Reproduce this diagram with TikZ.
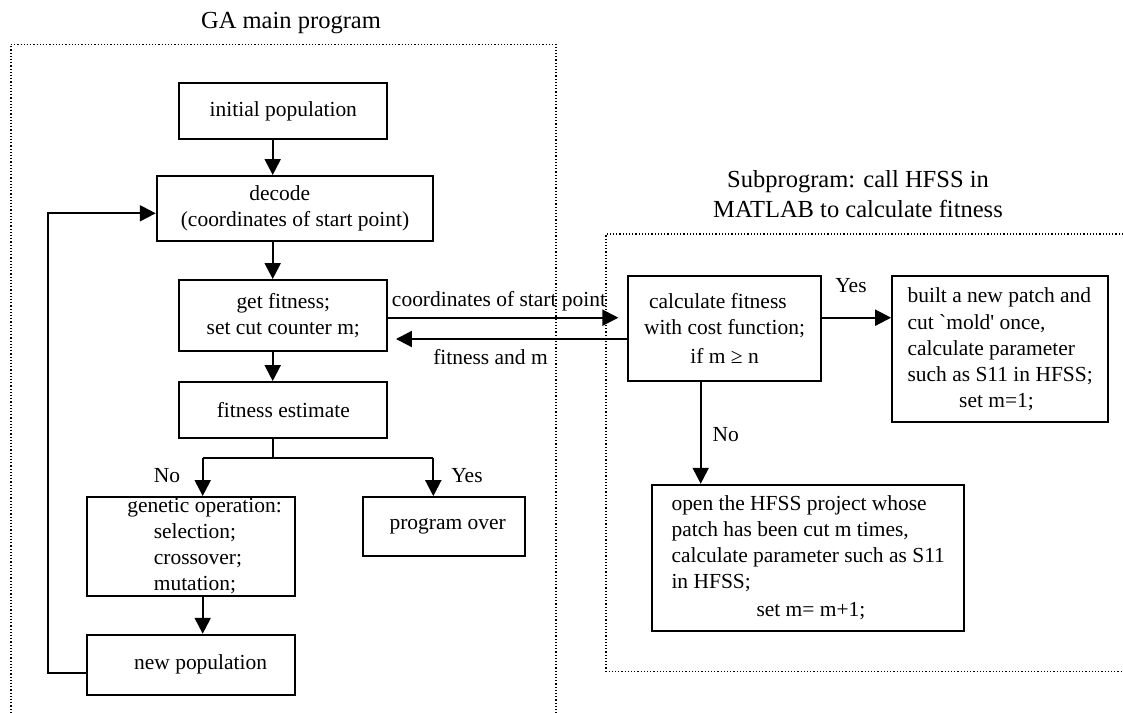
\documentclass[tikz,border=0pt]{standalone}
\usepackage{fontspec}
\setmainfont{Liberation Serif}[Ligatures=TeXOff]
\usetikzlibrary{arrows.meta}

\begin{document}
\begin{tikzpicture}[x=0.75pt, y=-0.75pt,
    font=\fontsize{16.1pt}{19.5pt}\selectfont,
    box/.style={draw, line width=1.4pt, inner sep=0pt, align=center},
    boxsize/.style 2 args={minimum width=#1*0.75pt, minimum height=#2*0.75pt},
    flow/.style={line width=1.6pt, -{Triangle[length=12pt, width=12pt]}},
    link/.style={line width=1.6pt},
    frame/.style={line width=0.9pt, dash pattern=on 0.9pt off 1.5pt},
    title/.style={font=\fontsize{18.4pt}{22.5pt}\selectfont, align=center}]

    \useasboundingbox (0,0) rectangle (1123,713);

    % 1. Define Coordinates
    \coordinate (spine) at (272.7,0);
    \coordinate (split) at (272.7,458);
    \coordinate (nosplit) at (202.7,458);
    \coordinate (yessplit) at (433.3,458);
    \coordinate (looptop) at (47.7,213.3);
    \coordinate (loopbot) at (47.7,673);
    \coordinate (sendy) at (0,317.7);
    \coordinate (backy) at (0,339);
    \coordinate (nodown) at (700.7,0);

    % 2. Dotted frames and their titles
    \draw[frame] (11,713) -- (11,44.3) -- (556,44.3) -- (556,713);
    \draw[frame] (1123,234) -- (606,234) -- (606,671.3) -- (1123,671.3);
    \node[title, anchor=base] (gatitle) at (291,28.3) {GA main program};
    \node[title] (subtitle) at (858,194) {Subprogram: call HFSS in\\MATLAB to calculate fitness};

    % 3. GA main program boxes
    \node[box, boxsize={208}{55.4}] (initpop) at (283.3,111) {initial population};
    \node[box, boxsize={276.6}{64.7}] (decode) at (295,208.3) {decode\hspace*{23pt}\\(coordinates of start point)};
    \node[box, boxsize={208}{70.7}] (getfit) at (283.3,315.3) {get fitness;\\set cut counter m;};
    \node[box, boxsize={208}{56}] (estimate) at (283.3,410) {fitness estimate};
    \node[box, boxsize={208}{98.7}, align=left] (genetic) at (191.3,546.3)
        {\hspace*{20pt}genetic operation:\\\hspace*{39.8pt}selection;\\\hspace*{39.8pt}crossover;\\\hspace*{39.8pt}mutation;};
    \node[box, boxsize={208}{60}] (newpop) at (191.3,664.7) {\hspace*{14pt}new population};
    \node[box, boxsize={162}{59.3}] (over) at (444.3,526.7) {\hspace*{5pt}program over};

    % 4. Subprogram boxes
    \node[box, boxsize={192.4}{104.7}] (calc) at (724.5,328.3)
        {calculate fitness\hspace*{10pt}\\with cost function;\\[2pt]if m ≥ n};
    \node[box, boxsize={216.3}{146.3}, align=left] (built) at (1000.2,349.2)
        {built a new patch and\\cut `mold' once,\\calculate parameter\\such as S11 in HFSS;\\\hspace*{38.7pt}set m=1;};
    \node[box, boxsize={311.7}{146}, align=left] (open) at (808.2,557.7)
        {open the HFSS project whose\\patch has been cut m times,\\calculate parameter such as S11\\in HFSS;\\[1.7pt]\hspace*{63.75pt}set m= m+1;};

    % 5. Connectors of the main loop
    \draw[flow] (initpop.south -| spine) -- (decode.north -| spine);
    \draw[flow] (decode.south -| spine) -- (getfit.north -| spine);
    \draw[flow] (getfit.south -| spine) -- (estimate.north -| spine);
    \draw[link] (estimate.south -| spine) -- (split);
    \draw[link] (nosplit) -- (yessplit);
    \draw[flow] (nosplit) -- (genetic.north -| nosplit);
    \draw[flow] (yessplit) -- (over.north -| yessplit);
    \draw[flow] (genetic.south -| nosplit) -- (newpop.north -| nosplit);
    \draw[flow] (newpop.west |- loopbot) -- (loopbot) -- (looptop) -- (decode.west |- looptop);

    % 6. Connectors to and inside the subprogram
    \draw[flow, shorten >=6.75pt] (getfit.east |- sendy) -- (calc.west |- sendy);
    \draw[flow, shorten >=5.8pt] (calc.west |- backy) -- (getfit.east |- backy);
    \draw[flow] (calc.east |- sendy) -- (built.west |- sendy);
    \draw[flow] (calc.south -| nodown) -- (open.north -| nodown);

    % 7. Labels
    \node[anchor=base] (coordlbl) at (499,306.7) {coordinates of start point};
    \node[anchor=base] (fitlbl) at (490.5,364) {fitness and m};
    \node[anchor=base] (yescalc) at (851,292.7) {Yes};
    \node[anchor=base] (nocalc) at (725.8,441.3) {No};
    \node[anchor=base] (noest) at (167,482) {No};
    \node[anchor=base] (yesest) at (467,482) {Yes};

\end{tikzpicture}
\end{document}
